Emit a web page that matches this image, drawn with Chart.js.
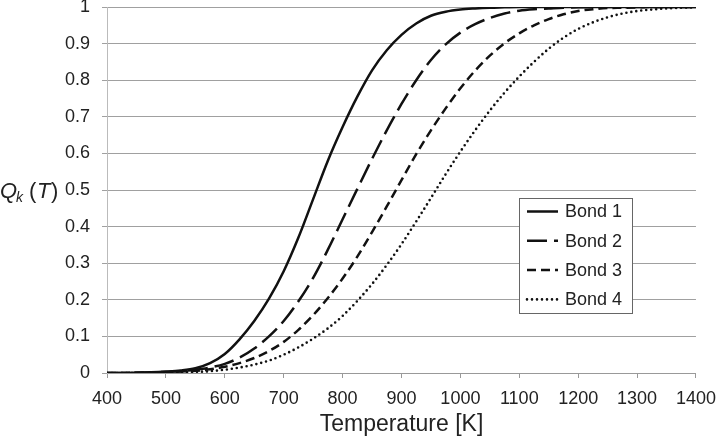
<!DOCTYPE html>
<html>
<head>
<meta charset="utf-8">
<script src="https://cdn.jsdelivr.net/npm/chart.js@4.4.1/dist/chart.umd.min.js"></script>
<style>
  html, body { margin: 0; padding: 0; background: #fff; }
  #wrap { width: 726px; height: 438px; position: relative; }
</style>
</head>
<body>
<div id="wrap"><canvas id="chart-q"></canvas></div>
<script>
// 温度 [K]
const temps = [400, 425, 450, 475, 500, 525, 550, 575, 600, 625, 650, 675, 700, 725, 750, 775, 800,
  825, 850, 875, 900, 925, 950, 975, 1000, 1025, 1050, 1075, 1100, 1125, 1150, 1175, 1200,
  1225, 1250, 1275, 1300, 1325, 1350, 1375, 1400];

const bond1 = [0, 0, 0.001, 0.002, 0.004, 0.007, 0.013, 0.027, 0.052, 0.092, 0.142, 0.203, 0.278,
  0.37, 0.475, 0.58, 0.672, 0.755, 0.827, 0.882, 0.924, 0.955, 0.976, 0.987, 0.993, 0.996,
  0.998, 0.999, 1, 1, 1, 1, 1, 1, 1, 1, 1, 1, 1, 1, 1];
const bond2 = [0, 0, 0.001, 0.002, 0.003, 0.005, 0.009, 0.015, 0.025, 0.042, 0.067, 0.1, 0.142,
  0.196, 0.26, 0.337, 0.42, 0.503, 0.585, 0.663, 0.735, 0.8, 0.855, 0.898, 0.93, 0.953, 0.97,
  0.982, 0.99, 0.994, 0.996, 0.998, 0.999, 1, 1, 1, 1, 1, 1, 1, 1];
const bond3 = [0, 0, 0.001, 0.001, 0.002, 0.004, 0.006, 0.01, 0.017, 0.027, 0.041, 0.06, 0.085,
  0.118, 0.158, 0.205, 0.258, 0.318, 0.385, 0.455, 0.527, 0.598, 0.663, 0.723, 0.778, 0.826, 0.867,
  0.901, 0.928, 0.95, 0.967, 0.98, 0.989, 0.994, 0.997, 0.998, 0.999, 1, 1, 1, 1];
const bond4 = [0, 0, 0, 0, 0.001, 0.002, 0.003, 0.005, 0.009, 0.015, 0.023, 0.034, 0.05, 0.07,
  0.094, 0.122, 0.156, 0.197, 0.243, 0.295, 0.352, 0.414, 0.478, 0.543, 0.605, 0.663, 0.717,
  0.766, 0.81, 0.85, 0.886, 0.916, 0.94, 0.958, 0.972, 0.982, 0.989, 0.993, 0.996, 0.998, 0.999];

const labels = ["Bond 1", "Bond 2", "Bond 3", "Bond 4"];
const series = [bond1, bond2, bond3, bond4];
const dashes = [[], [20, 7], [9, 5], [0, 5]];

const FONT = "'Liberation Sans', Arial, Helvetica, sans-serif";

// 凡例をプロット内に描く
const insideLegend = {
  id: "insideLegend",
  afterDatasetsDraw(chart) {
    const c = chart.ctx;
    const ca = chart.chartArea;
    const x0 = ca.left + 412, y0 = ca.top + 191, w = 113, h = 115;
    c.save();
    c.fillStyle = "#fff";
    c.fillRect(x0, y0, w, h);
    c.strokeStyle = "#666";
    c.lineWidth = 1;
    c.strokeRect(x0 + 0.5, y0 + 0.5, w, h);
    chart.data.datasets.forEach((ds, i) => {
      const y = y0 + 13.5 + i * 29.3;
      c.beginPath();
      c.setLineDash(ds.borderDash || []);
      c.lineCap = ds.borderCapStyle || "butt";
      c.lineWidth = ds.borderWidth;
      c.strokeStyle = ds.borderColor;
      c.moveTo(x0 + 8, y);
      c.lineTo(x0 + 39, y);
      c.stroke();
      c.setLineDash([]);
      c.fillStyle = "#222";
      c.font = "18px " + FONT;
      c.textBaseline = "middle";
      c.textAlign = "left";
      c.fillText(ds.label, x0 + 46, y + 1);
    });
    c.restore();
  },
  afterDraw(chart) {
    // 縦軸ラベル Q_k (T)
    const c = chart.ctx;
    const y = 198;
    c.save();
    c.fillStyle = "#222";
    c.textBaseline = "alphabetic";
    c.textAlign = "left";
    c.font = "italic 22px " + FONT;
    c.fillText("Q", 0, y);
    c.font = "italic 14px " + FONT;
    c.fillText("k", 16, y + 4);
    c.font = "22px " + FONT;
    c.fillText("(", 29, y);
    c.font = "italic 22px " + FONT;
    c.fillText("T", 37, y);
    c.font = "22px " + FONT;
    c.fillText(")", 51, y);
    c.restore();
  },
};

const ctx = document.getElementById("chart-q");

new Chart(ctx, {
  type: "line",
  data: {
    datasets: series.map((vals, i) => ({
      label: labels[i],
      data: temps.map((t, j) => ({ x: t, y: vals[j] })),
      borderColor: "#111",
      borderWidth: i === 3 ? 2.6 : 2.5,
      borderDash: dashes[i],
      borderCapStyle: i === 3 ? "round" : "butt",
      pointRadius: 0,
      cubicInterpolationMode: "monotone",
      fill: false,
    })),
  },
  options: {
    responsive: true,
    maintainAspectRatio: false,
    animation: false,
    layout: { padding: { top: 7, right: 21, left: 0, bottom: 0 } },
    plugins: {
      legend: { display: false },
      tooltip: { enabled: false },
    },
    scales: {
      x: {
        type: "linear",
        min: 400,
        max: 1400,
        afterFit(scale) { scale.height = 65; },
        border: { display: true, color: "#999", width: 1 },
        grid: { drawOnChartArea: false, drawTicks: true, tickLength: 5, color: "#999" },
        ticks: {
          stepSize: 100, padding: 10, color: "#222", font: { family: FONT, size: 18 },
          callback: (v) => String(v),
        },
        title: {
          display: true, text: "Temperature [K]", color: "#222",
          padding: { top: 0, bottom: 0 }, font: { family: FONT, size: 23 },
        },
      },
      y: {
        min: 0,
        max: 1,
        afterFit(scale) {
          scale.width = 107;
          scale.paddingTop = 0; // 上端の余白を広げない
          scale.paddingBottom = 0;
        },
        border: { display: true, color: "#bbb", width: 1 },
        grid: { color: "#a0a0a0", lineWidth: 1, drawTicks: true, tickLength: 5 },
        ticks: {
          stepSize: 0.1, padding: 12, color: "#222", font: { family: FONT, size: 18 },
          callback: (v) => String(Math.round(v * 10) / 10),
        },
      },
    },
  },
  plugins: [insideLegend],
});
</script>
</body>
</html>
